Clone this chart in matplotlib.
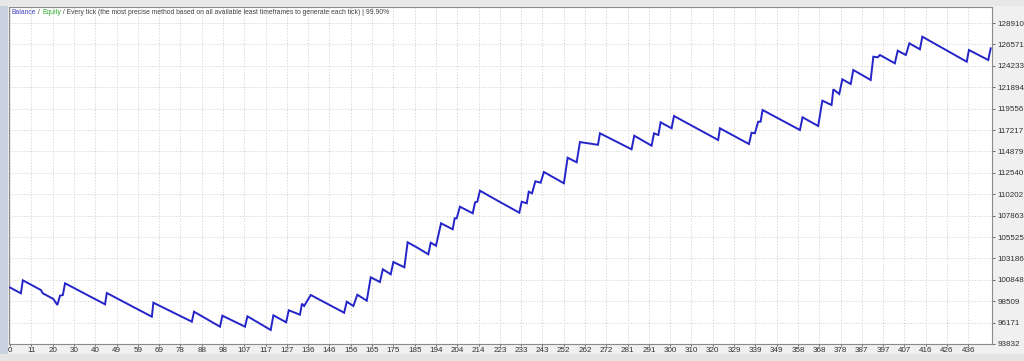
import numpy as np
import matplotlib.pyplot as plt
from matplotlib.patches import Rectangle

# balance curve (trade number, balance)
trade = [0, 4.9, 5.8, 10.6, 14.0, 14.9, 19.7, 21.5, 22.7, 24.0, 25.0,
         43.2, 44.0, 64.5, 65.2, 82.7, 83.7, 95.5, 96.6, 106.9, 108.0,
         118.6, 119.8, 125.6, 126.8, 131.9, 132.8, 133.8, 136.8, 152.0, 153.2,
         156.2, 158.0, 162.3, 164.1, 168.3, 169.6, 173.2, 174.4, 179.4, 180.9,
         185.0, 190.3, 191.4, 193.8, 196.1, 201.4, 202.3, 203.2, 204.7, 210.5,
         211.6, 212.6, 213.8, 219.9, 231.7, 232.8, 235.1, 236.0, 237.5, 239.0,
         241.4, 242.9, 252.0, 253.7, 257.8, 259.3, 267.5, 268.4,
         282.8, 284.0, 291.9, 293.0, 295.0, 296.0, 301.0, 302.1, 322.2, 323.0,
         336.2, 337.4, 338.9, 340.4, 341.5, 342.4, 359.4, 360.6, 367.7, 369.6,
         373.8, 374.6, 377.3, 378.7, 382.5, 383.7, 391.6, 392.8, 394.8, 395.8,
         402.6, 403.9, 407.6, 409.2, 414.0, 415.1, 435.3, 436.3, 445.1, 446.2]
balance = [100000, 99372, 100792, 100170, 99733, 99372, 98748, 98093, 99110, 99186, 100465,
           98170, 99405, 96815, 98345, 96269, 97362, 95723, 96925, 95723, 96859,
           95362, 96968, 96203, 97515, 97034, 98236, 97985, 99187, 97253, 98455,
           97984, 99219, 98564, 101121, 100607, 101995, 101449, 102793, 102214, 104946,
           104400, 103635, 104902, 104575, 107022, 106367, 107569, 107569, 108837, 108116,
           109318, 109383, 110585, 109754, 108181, 109383, 109208, 110476, 110301, 111612,
           111459, 112628, 111393, 114190, 113688, 115900, 115600, 116857,
           115108, 116595, 115502, 116857, 116672, 118059, 117404, 118748, 116125, 117404,
           115688, 116923, 116857, 118125, 118125, 119404, 117218, 118606, 117655, 120420,
           119950, 121666, 121152, 122758, 122245, 123775, 122682, 125228, 125163, 125414,
           124507, 125884, 125414, 126692, 126037, 127414, 124682, 125960, 124867, 126146]

x_labels = ['0', '11', '20', '30', '40', '49', '59', '69', '78', '88', '98', '107', '117',
            '127', '136', '146', '156', '165', '175', '185', '194', '204', '214', '223',
            '233', '243', '252', '262', '272', '281', '291', '300', '310', '320', '329',
            '339', '349', '358', '368', '378', '387', '397', '407', '416', '426', '436']
y_labels = ['93832', '96171', '98509', '100848', '103186', '105525', '107863', '110202',
            '112540', '114879', '117217', '119556', '121894', '124233', '126571', '128910']

plt.rcParams['font.family'] = ['Liberation Sans', 'DejaVu Sans']

fig = plt.figure(figsize=(10.24, 3.61), dpi=100)
fig.patch.set_facecolor('#f0f0f0')

# window chrome around the graph
fig.patches.append(Rectangle((0, 0), 8 / 1024, 1, transform=fig.transFigure,
                             facecolor='#c9d3df', edgecolor='none', zorder=-5))
fig.patches.append(Rectangle((0, 0), 1, 7 / 361, transform=fig.transFigure,
                             facecolor='#e4e4e4', edgecolor='none', zorder=-5))
fig.patches.append(Rectangle((0, 355 / 361), 1, 6 / 361, transform=fig.transFigure,
                             facecolor='#e8e8e8', edgecolor='none', zorder=-5))

ax = fig.add_axes([9 / 1024, 17 / 361, 983 / 1024, 337 / 361])
ax.set_facecolor('white')

ax.plot(trade, balance, color='#2424c8', lw=1.4, solid_joinstyle='miter', zorder=3)

ax.set_xlim(-0.5, 446.8)
ax.set_ylim(93832, 130660)

xt = np.arange(len(x_labels)) * 436 / (len(x_labels) - 1)
ax.set_xticks(xt)
ax.set_xticklabels(x_labels)
yt = [int(v) for v in y_labels]
ax.set_yticks(yt)
ax.set_yticklabels(y_labels)

ax.yaxis.tick_right()
ax.tick_params(axis='both', labelsize=5.8, colors='#555555', labelcolor='#303030',
               length=2, width=0.6)
ax.tick_params(axis='x', pad=0.8, length=1.5)
ax.tick_params(axis='y', pad=2)
ax.grid(True, color='#cfcfcf', linestyle=(0, (1.5, 2)), linewidth=0.6)
for s in ax.spines.values():
    s.set_color('#8a8a8a')
    s.set_linewidth(0.8)

# coloured header text, pieces placed one after another
parts = [('Balance', '#4040c0'), (' / ', '#404040'), ('Equity', '#30b030'),
         (' / Every tick (the most precise method based on all available least '
          'timeframes to generate each tick) | 99.90%', '#404040')]
fig.canvas.draw()
r = fig.canvas.get_renderer()
x0 = 12
for txt, c in parts:
    t = fig.text(x0 / 1024, 1 - 12 / 361, txt, color=c, fontsize=4.85, va='center', ha='left')
    x0 += t.get_window_extent(r).width

fig.savefig('out.png', dpi=100, facecolor=fig.get_facecolor())
